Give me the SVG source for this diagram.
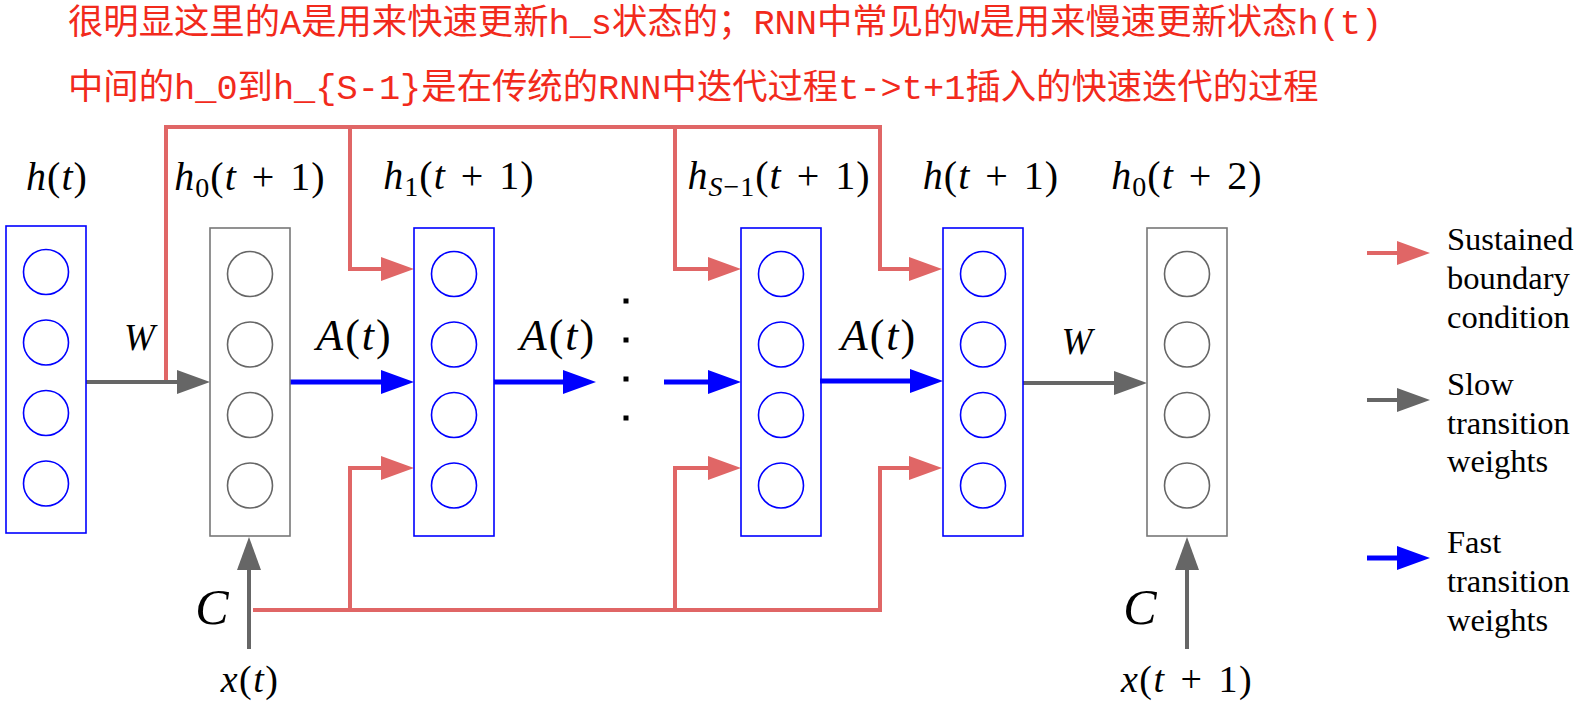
<svg xmlns="http://www.w3.org/2000/svg" width="1582" height="710" viewBox="0 0 1582 710">
<style>
.bb{fill:none;stroke:#0000ff;stroke-width:1.6}
.bg{fill:none;stroke:#777777;stroke-width:1.6}
.cb{fill:none;stroke:#0000ff;stroke-width:1.6}
.cg{fill:none;stroke:#666666;stroke-width:1.6}
.red{fill:none;stroke:#e06666;stroke-width:4}
.gray{fill:none;stroke:#666666;stroke-width:4}
.blue{fill:none;stroke:#0000ff;stroke-width:5}
.title{font-family:"Liberation Mono","Noto Sans CJK SC",monospace;font-size:35.35px;fill:#f22a1c}
.m{font-family:"Liberation Serif",serif;fill:#000;text-anchor:middle}
.i{font-style:italic}
.lab{font-size:40px;letter-spacing:1px;word-spacing:4px}
.at{font-size:44px;letter-spacing:2px}
.leg{font-family:"Liberation Serif",serif;font-size:32.5px;fill:#000}
.dot{fill:#000}
</style>
<defs>
<marker id="ar" markerUnits="userSpaceOnUse" markerWidth="34" markerHeight="24" viewBox="0 0 34 24" refX="0" refY="12" orient="auto" overflow="visible"><path d="M0,0 L33,12 L0,24 z" fill="#e06666"/></marker>
<marker id="ag" markerUnits="userSpaceOnUse" markerWidth="34" markerHeight="24" viewBox="0 0 34 24" refX="0" refY="12" orient="auto" overflow="visible"><path d="M0,0 L33,12 L0,24 z" fill="#666666"/></marker>
<marker id="ab" markerUnits="userSpaceOnUse" markerWidth="34" markerHeight="24" viewBox="0 0 34 24" refX="0" refY="12" orient="auto" overflow="visible"><path d="M0,0 L33,12 L0,24 z" fill="#0000ff"/></marker>
</defs>
<rect width="1582" height="710" fill="#ffffff"/>

<g id="title">
<text class="title" x="68" y="34">很明显这里的A是用来快速更新h_s状态的；RNN中常见的W是用来慢速更新状态h(t)</text>
<text class="title" x="68" y="99">中间的h_0到h_{S-1}是在传统的RNN中迭代过程t-&gt;t+1插入的快速迭代的过程</text>
</g>

<g id="connectors">
<path class="red" d="M166,382 V127 H880 V269 H909" marker-end="url(#ar)"/>
<path class="red" d="M350,127 V269 H381" marker-end="url(#ar)"/>
<path class="red" d="M675,127 V269 H708" marker-end="url(#ar)"/>
<path class="red" d="M253,610 H880 V468 H909" marker-end="url(#ar)"/>
<path class="red" d="M350,610 V468 H381" marker-end="url(#ar)"/>
<path class="red" d="M675,610 V468 H708" marker-end="url(#ar)"/>
<path class="gray" d="M86,382 H177" marker-end="url(#ag)"/>
<path class="gray" d="M1023,383 H1114" marker-end="url(#ag)"/>
<path class="blue" d="M290,382 H381" marker-end="url(#ab)"/>
<path class="blue" d="M494,382 H563" marker-end="url(#ab)"/>
<path class="blue" d="M664,382 H708" marker-end="url(#ab)"/>
<path class="blue" d="M820,381 H910" marker-end="url(#ab)"/>
<path class="gray" d="M249,649 V570" marker-end="url(#ag)"/>
<path class="gray" d="M1187,649 V570" marker-end="url(#ag)"/>
<rect class="dot" x="623.5" y="298.5" width="5" height="5"/>
<rect class="dot" x="623.5" y="337.5" width="5" height="5"/>
<rect class="dot" x="623.5" y="376.5" width="5" height="5"/>
<rect class="dot" x="623.5" y="415.5" width="5" height="5"/>
<text class="m i" x="139.5" y="350" font-size="37">W</text>
<text class="m i" x="1077" y="354" font-size="37">W</text>
<text class="m at" x="354.5" y="350"><tspan class="i">A</tspan>(<tspan class="i">t</tspan>)</text>
<text class="m at" x="558" y="350"><tspan class="i">A</tspan>(<tspan class="i">t</tspan>)</text>
<text class="m at" x="879" y="350"><tspan class="i">A</tspan>(<tspan class="i">t</tspan>)</text>
<text class="m i" x="212" y="624" font-size="50">C</text>
<text class="m i" x="1140" y="624" font-size="50">C</text>
<text class="m" x="250" y="692" font-size="38" letter-spacing="1.5"><tspan class="i">x</tspan>(<tspan class="i">t</tspan>)</text>
<text class="m" x="1187" y="692" font-size="38" letter-spacing="1.5" word-spacing="4"><tspan class="i">x</tspan>(<tspan class="i">t</tspan> + 1)</text>
</g>

<g id="n-ht">
<rect class="bb" x="6" y="226" width="80" height="307"/>
<circle class="cb" cx="46" cy="272" r="22.5"/>
<circle class="cb" cx="46" cy="342.5" r="22.5"/>
<circle class="cb" cx="46" cy="413" r="22.5"/>
<circle class="cb" cx="46" cy="483.5" r="22.5"/>
<text class="m lab" x="57" y="190"><tspan class="i">h</tspan>(<tspan class="i">t</tspan>)</text>
</g>

<g id="n-h0">
<rect class="bg" x="210" y="228" width="80" height="308"/>
<circle class="cg" cx="250" cy="274" r="22.5"/>
<circle class="cg" cx="250" cy="344.5" r="22.5"/>
<circle class="cg" cx="250" cy="415" r="22.5"/>
<circle class="cg" cx="250" cy="485.5" r="22.5"/>
<text class="m lab" x="250" y="190"><tspan class="i">h</tspan><tspan font-size="28" dy="7">0</tspan><tspan dy="-7">(</tspan><tspan class="i">t</tspan> + 1)</text>
</g>

<g id="n-h1">
<rect class="bb" x="414" y="228" width="80" height="308"/>
<circle class="cb" cx="454" cy="274" r="22.5"/>
<circle class="cb" cx="454" cy="344.5" r="22.5"/>
<circle class="cb" cx="454" cy="415" r="22.5"/>
<circle class="cb" cx="454" cy="485.5" r="22.5"/>
<text class="m lab" x="459" y="189"><tspan class="i">h</tspan><tspan font-size="28" dy="7">1</tspan><tspan dy="-7">(</tspan><tspan class="i">t</tspan> + 1)</text>
</g>

<g id="n-hs1">
<rect class="bb" x="741" y="228" width="80" height="308"/>
<circle class="cb" cx="781" cy="274" r="22.5"/>
<circle class="cb" cx="781" cy="344.5" r="22.5"/>
<circle class="cb" cx="781" cy="415" r="22.5"/>
<circle class="cb" cx="781" cy="485.5" r="22.5"/>
<text class="m lab" x="779" y="189"><tspan class="i">h</tspan><tspan font-size="28" dy="7"><tspan class="i">S</tspan>−1</tspan><tspan dy="-7">(</tspan><tspan class="i">t</tspan> + 1)</text>
</g>

<g id="n-ht1">
<rect class="bb" x="943" y="228" width="80" height="308"/>
<circle class="cb" cx="983" cy="274" r="22.5"/>
<circle class="cb" cx="983" cy="344.5" r="22.5"/>
<circle class="cb" cx="983" cy="415" r="22.5"/>
<circle class="cb" cx="983" cy="485.5" r="22.5"/>
<text class="m lab" x="991" y="189"><tspan class="i">h</tspan>(<tspan class="i">t</tspan> + 1)</text>
</g>

<g id="n-h0t2">
<rect class="bg" x="1147" y="228" width="80" height="308"/>
<circle class="cg" cx="1187" cy="274" r="22.5"/>
<circle class="cg" cx="1187" cy="344.5" r="22.5"/>
<circle class="cg" cx="1187" cy="415" r="22.5"/>
<circle class="cg" cx="1187" cy="485.5" r="22.5"/>
<text class="m lab" x="1187" y="189"><tspan class="i">h</tspan><tspan font-size="28" dy="7">0</tspan><tspan dy="-7">(</tspan><tspan class="i">t</tspan> + 2)</text>
</g>

<g id="legend">
<path class="red" d="M1367,253 H1397" stroke-width="5" marker-end="url(#ar)"/>
<path class="gray" d="M1367,400 H1397" stroke-width="5" marker-end="url(#ag)"/>
<path class="blue" d="M1367,558 H1397" marker-end="url(#ab)"/>
<text class="leg" x="1447" y="250">Sustained</text>
<text class="leg" x="1447" y="289">boundary</text>
<text class="leg" x="1447" y="327.5">condition</text>
<text class="leg" x="1447" y="395">Slow</text>
<text class="leg" x="1447" y="433.5">transition</text>
<text class="leg" x="1447" y="472">weights</text>
<text class="leg" x="1447" y="553">Fast</text>
<text class="leg" x="1447" y="592">transition</text>
<text class="leg" x="1447" y="631">weights</text>
</g>
</svg>
